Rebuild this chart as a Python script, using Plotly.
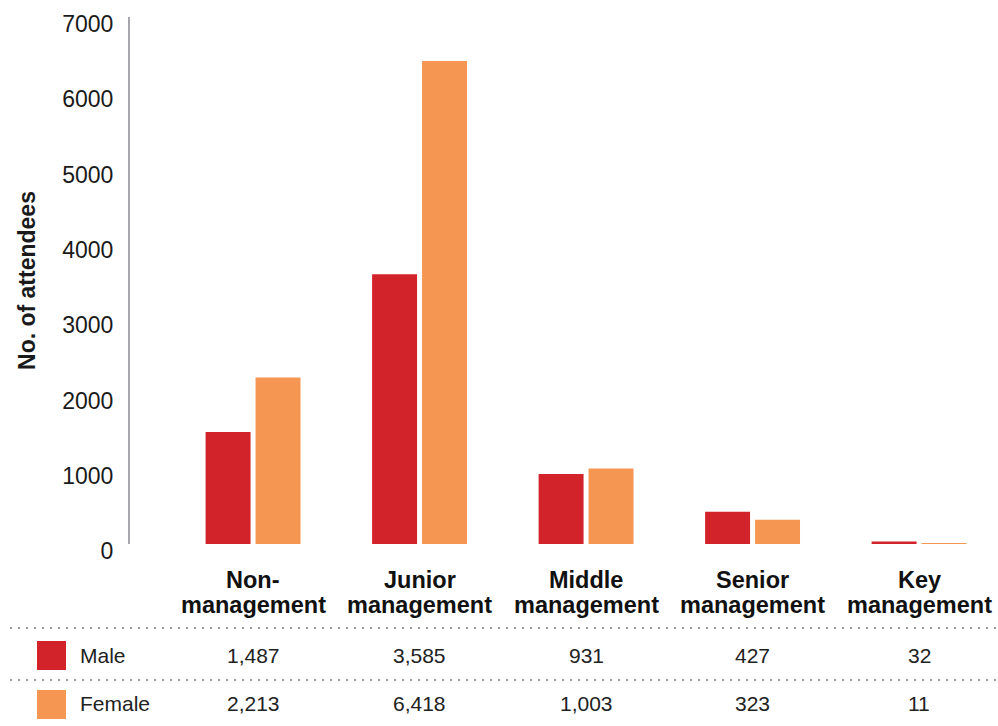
import plotly.graph_objects as go

categories = ["Non-management", "Junior management", "Middle management", "Senior management", "Key management"]
label_line1 = ["Non-", "Junior", "Middle", "Senior", "Key"]
label_line2 = ["management", "management", "management", "management", "management"]
male = [1487, 3585, 931, 427, 32]
female = [2213, 6418, 1003, 323, 11]
male_text = ["1,487", "3,585", "931", "427", "32"]
female_text = ["2,213", "6,418", "1,003", "323", "11"]
y_ticks = [0, 1000, 2000, 3000, 4000, 5000, 6000, 7000]

MALE_C = "#D2232A"
FEMALE_C = "#F69653"

W, H = 998, 726
L, R, T, B = 130, 0, 17, 182
PW, PH = W - L - R, H - T - B

def px(x):
    return (x - L) / PW

def py(y):
    return (H - B - y) / PH

fig = go.Figure()
fig.add_bar(x=categories, y=male, name="Male", marker_color=MALE_C, marker_line_width=0)
fig.add_bar(x=categories, y=female, name="Female", marker_color=FEMALE_C, marker_line_width=0)

fig.update_layout(
    width=W, height=H,
    margin=dict(l=L, r=R, t=T, b=B, pad=0, autoexpand=False),
    paper_bgcolor="white", plot_bgcolor="white",
    barmode="group", bargap=0.4, bargroupgap=0.1,
    showlegend=False,
    font=dict(family="Liberation Sans, Arial, sans-serif", color="#1a1a1a"),
)
fig.update_xaxes(
    range=[-0.739, 4.474], showticklabels=False, showgrid=False,
    zeroline=False, showline=False, ticks="", automargin=False,
)
fig.update_yaxes(
    range=[0, 7002], tickvals=y_ticks, ticktext=[str(v) for v in y_ticks],
    showgrid=False, zeroline=False, showline=True, linecolor="#A7A7AF", linewidth=2,
    ticks="", ticklabelstandoff=10, ticklabelshift=7, ticklabeloverflow="allow",
    tickfont=dict(size=23, color="#1a1a1a"), automargin=False,
    title=dict(text="<b>No. of attendees</b>", font=dict(size=23, color="#1a1a1a"), standoff=20),
)

annotations = []
for c, l1, l2 in zip(categories, label_line1, label_line2):
    annotations.append(dict(x=c, xref="x", y=py(580), yref="paper", text="<b>" + l1 + "</b>",
                            showarrow=False, xanchor="center", yanchor="middle",
                            font=dict(size=23.5, color="#111111")))
    annotations.append(dict(x=c, xref="x", y=py(605), yref="paper", text="<b>" + l2 + "</b>",
                            showarrow=False, xanchor="center", yanchor="middle",
                            font=dict(size=23.5, color="#111111")))
for c, t in zip(categories, male_text):
    annotations.append(dict(x=c, xref="x", y=py(655), yref="paper", text=t, showarrow=False,
                            xanchor="center", yanchor="middle", font=dict(size=21, color="#222222")))
for c, t in zip(categories, female_text):
    annotations.append(dict(x=c, xref="x", y=py(703), yref="paper", text=t, showarrow=False,
                            xanchor="center", yanchor="middle", font=dict(size=21, color="#222222")))
annotations.append(dict(x=px(78), xref="paper", y=py(655), yref="paper", text="Male", showarrow=False,
                        xanchor="left", yanchor="middle", font=dict(size=21, color="#222222")))
annotations.append(dict(x=px(78), xref="paper", y=py(703), yref="paper", text="Female", showarrow=False,
                        xanchor="left", yanchor="middle", font=dict(size=21, color="#222222")))

shapes = []
for yy in (628, 680):
    shapes.append(dict(type="line", xref="paper", yref="paper", x0=px(10), x1=px(998), y0=py(yy), y1=py(yy),
                       line=dict(color="#9A9A9A", width=2, dash="2px,6px")))
shapes.append(dict(type="rect", xref="paper", yref="paper", x0=px(37), x1=px(66), y0=py(641), y1=py(670),
                   fillcolor=MALE_C, line=dict(width=0)))
shapes.append(dict(type="rect", xref="paper", yref="paper", x0=px(37), x1=px(66), y0=py(690), y1=py(719),
                   fillcolor=FEMALE_C, line=dict(width=0)))

fig.update_layout(annotations=annotations, shapes=shapes)
fig.write_html("out.html")
